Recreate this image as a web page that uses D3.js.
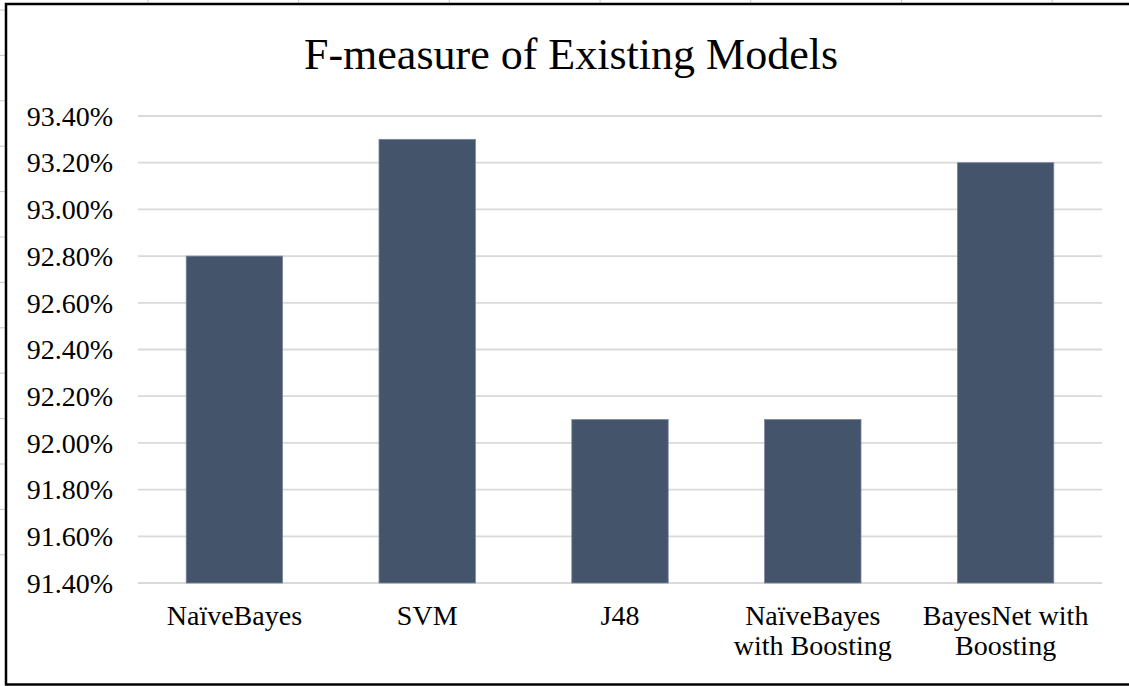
<!DOCTYPE html>
<html>
<head>
<meta charset="utf-8">
<script src="https://cdn.jsdelivr.net/npm/d3@7"></script>
<style>
  html, body { margin: 0; padding: 0; background: #fff; }
  svg { display: block; }
</style>
</head>
<body>
<svg id="chart" width="1129" height="686" font-family="Liberation Serif"></svg>
<script>
// Chart data
const models = [
  ["NaïveBayes"],
  ["SVM"],
  ["J48"],
  ["NaïveBayes", "with Boosting"],
  ["BayesNet with", "Boosting"]
];
const fMeasure = [92.8, 93.3, 92.1, 92.1, 93.2];
const yTicks = [91.4, 91.6, 91.8, 92.0, 92.2, 92.4, 92.6, 92.8, 93.0, 93.2, 93.4];
const chartTitle = "F-measure of Existing Models";

const W = 1129, H = 686;
const SERIF = "Liberation Serif";
const svg = d3.select("#chart");

// Faint worksheet cell lines visible around the chart frame
const cellCols = d3.range(7).map(i => 148 + i * 150.7);
const cellRows = d3.range(13).map(i => 10 + i * 45.4);
svg.append("g").selectAll("line").data(cellCols).join("line")
  .attr("x1", d => d).attr("x2", d => d).attr("y1", 0).attr("y2", 4)
  .attr("stroke", "#c8c8c8").attr("stroke-width", 1);
svg.append("g").selectAll("line").data(cellRows).join("line")
  .attr("x1", 0).attr("x2", 5).attr("y1", d => d).attr("y2", d => d)
  .attr("stroke", "#c8c8c8").attr("stroke-width", 1);

// Chart frame
svg.append("rect")
  .attr("x", 6).attr("y", 4).attr("width", W + 20).attr("height", 680.5)
  .attr("fill", "#fff").attr("stroke", "#000").attr("stroke-width", 2.5);

const plot = { left: 138, right: 1102, top: 116, bottom: 583 };

const x = d3.scaleBand()
  .domain(d3.range(models.length))
  .range([plot.left, plot.right])
  .paddingInner(0.5).paddingOuter(0.25);

const y = d3.scaleLinear()
  .domain([91.4, 93.4])
  .range([plot.bottom, plot.top]);

// Title
svg.append("text")
  .attr("x", 571).attr("y", 69)
  .attr("text-anchor", "middle")
  .attr("font-family", SERIF)
  .attr("font-size", 44)
  .attr("fill", "#000")
  .text(chartTitle);

// Horizontal gridlines
svg.append("g").selectAll("line").data(yTicks).join("line")
  .attr("x1", plot.left).attr("x2", plot.right)
  .attr("y1", d => y(d)).attr("y2", d => y(d))
  .attr("stroke", "#d9d9d9").attr("stroke-width", 1.8);

// Y axis labels
const yAxis = d3.axisLeft(y)
  .tickValues(yTicks)
  .tickSize(0)
  .tickPadding(25)
  .tickFormat(d => d3.format(".2f")(d) + "%");
const yG = svg.append("g").attr("transform", `translate(${plot.left},0)`).call(yAxis);
yG.attr("font-family", SERIF).attr("font-size", 28);
yG.select(".domain").remove();
yG.selectAll("text")
  .attr("font-family", SERIF)
  .attr("font-size", 28)
  .attr("fill", "#000")
  .attr("dy", "0.33em");

// Bars
svg.append("g").selectAll("rect").data(fMeasure).join("rect")
  .attr("x", (d, i) => x(i))
  .attr("width", x.bandwidth())
  .attr("y", d => y(d))
  .attr("height", d => y(91.4) - y(d))
  .attr("fill", "#44546a")
  .attr("stroke", "#7a889c")
  .attr("stroke-width", 0.8);

// Category labels
const xG = svg.append("g").attr("font-family", SERIF).attr("font-size", 28);
models.forEach((lines, i) => {
  const t = xG.append("text")
    .attr("x", x(i) + x.bandwidth() / 2)
    .attr("y", 625)
    .attr("text-anchor", "middle")
    .attr("font-family", SERIF)
    .attr("font-size", 28)
    .attr("fill", "#000");
  lines.forEach((ln, j) => {
    t.append("tspan")
      .attr("x", x(i) + x.bandwidth() / 2)
      .attr("dy", j === 0 ? 0 : 30)
      .text(ln);
  });
});
</script>
</body>
</html>
